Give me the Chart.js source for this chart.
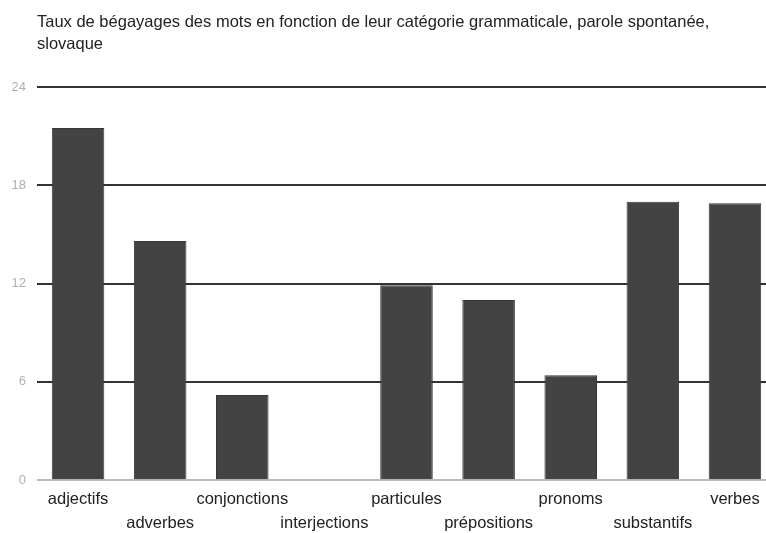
<!DOCTYPE html>
<html>
<head>
<meta charset="utf-8">
<script src="https://cdn.jsdelivr.net/npm/chart.js@4/dist/chart.umd.min.js"></script>
<style>
  html, body { margin: 0; padding: 0; background: #fff; overflow: hidden; }
  #wrap { width: 776px; height: 533px; }
</style>
</head>
<body>
<div id="wrap"><canvas id="bars"></canvas></div>
<script>
var categories = ['adjectifs', 'adverbes', 'conjonctions', 'interjections', 'particules',
  'prépositions', 'pronoms', 'substantifs', 'verbes'];
var rates = [21.5, 14.6, 5.2, 0, 11.9, 11.0, 6.4, 17.0, 16.9];
var yTicks = [0, 6, 12, 18, 24];
var titleLines = ['Taux de bégayages des mots en fonction de leur catégorie grammaticale, parole spontanée,', 'slovaque'];

var fontName = '"Liberation Sans", Arial, sans-serif';

// title starts at the left edge of the plot, not of the canvas
const titleShift = {
  id: 'titleShift',
  afterLayout: function (chart) {
    if (chart.titleBlock) chart.titleBlock.left = chart.chartArea.left;
  },
};

const barConfig = {
  type: 'bar',
  data: {
    labels: categories,
    datasets: [
      {
        data: rates,
        backgroundColor: '#434343',
        borderColor: '#383838',
        borderWidth: 1,
        barPercentage: 0.64,
        categoryPercentage: 1,
      },
    ],
  },
  options: {
    responsive: true,
    maintainAspectRatio: false,
    animation: false,
    layout: { padding: { top: 0, left: 0, right: 0, bottom: -10 } },
    plugins: {
      legend: { display: false },
      tooltip: { enabled: false },
      title: {
        display: true,
        text: titleLines,
        align: 'start',
        color: '#222',
        font: { family: fontName, size: 16.5, weight: 'normal', lineHeight: 1.333 },
        padding: { top: 11, bottom: 32 },
      },
    },
    scales: {
      x: {
        grid: { display: false, drawTicks: false },
        border: { display: false },
        ticks: {
          autoSkip: false,
          maxRotation: 0,
          color: '#222',
          padding: 8,
          font: { family: fontName, size: 16.5, lineHeight: 1.42 },
          // stagger the labels on two rows like the original
          callback: function (val, i) {
            var name = categories[i];
            return i % 2 ? ['', name] : name;
          },
        },
      },
      y: {
        min: 0,
        max: 24,
        afterBuildTicks: function (axis) {
          axis.ticks = yTicks.map(function (v) { return { value: v }; });
        },
        afterFit: function (axis) { axis.width = 37; },
        border: { display: false },
        grid: {
          drawTicks: false,
          lineWidth: 2,
          color: function (ctx) { return ctx.tick && ctx.tick.value === 0 ? '#bbbbbb' : '#333333'; },
        },
        ticks: {
          color: '#b0b0b0',
          padding: 11,
          font: { family: fontName, size: 13 },
        },
      },
    },
  },
  plugins: [titleShift],
};

const barCtx = document.getElementById('bars');
window.myBars = new Chart(barCtx, barConfig);
</script>
</body>
</html>
